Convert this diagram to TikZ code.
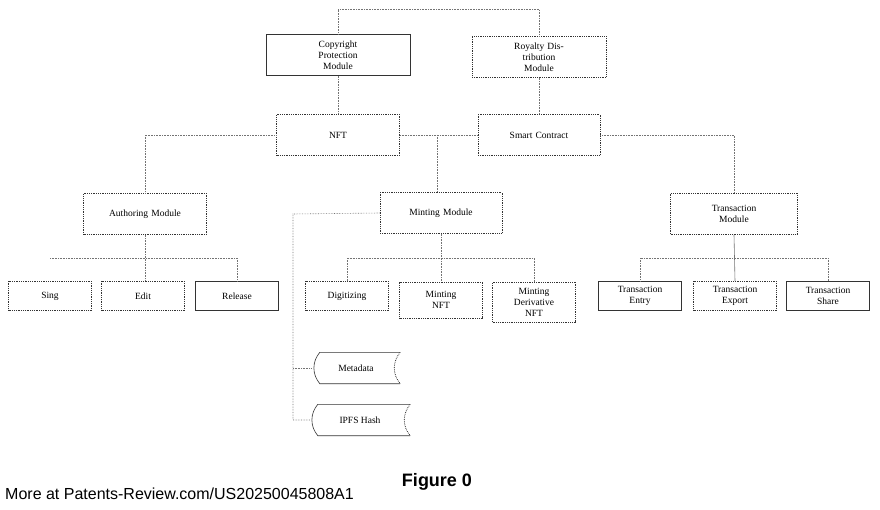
\documentclass[tikz,border=0pt]{standalone}
\usepackage{fontspec}
\setmainfont{Liberation Serif}
\newfontfamily\footfont{Liberation Sans}
\usetikzlibrary{positioning}

\begin{document}
\begin{tikzpicture}[x=1pt, y=-1pt, font=\fontsize{9.5}{11}\selectfont]
    \tikzstyle{block} = [rectangle, draw=black!80, densely dotted, thick, text width=2.6cm, align=center, minimum height=41pt, inner sep=1pt]
    \tikzstyle{solidblock} = [block, solid, semithick]
    \tikzstyle{leaf} = [rectangle, draw=black!80, densely dotted, thick, minimum width=83pt, minimum height=29pt, align=center, inner sep=1pt]
    \tikzstyle{line} = [draw, black!55, densely dotted, semithick]
    \tikzstyle{store} = [minimum width=88pt, minimum height=31pt, inner sep=0pt]

    \useasboundingbox (0,0) rectangle (880,510);

    % upper modules
    \node [solidblock, minimum width=144pt] (copyright) at (338,55) {Copyright Protection\\Module};
    \node [block, minimum width=134pt] (royalty) at (539,57) {Royalty Distribution\\Module};
    \node [block, minimum width=123pt] (nft) at (338,135) {NFT};
    \node [block, minimum width=122pt] (contract) at (539,135) {Smart Contract};
    \node [block, minimum width=123pt] (authoring) at (145,214) {Authoring Module};
    \node [block, minimum width=122pt] (minting) at (441,213) {Minting Module};
    \node [block, minimum width=127pt] (transaction) at (734,214) {Transaction Module};

    % leaves
    \node [leaf] (sing) at (50,296) {Sing};
    \node [leaf] (edit) at (143,296) {Edit};
    \node [leaf, solid, semithick] (release) at (237,296) {Release};
    \node [leaf] (digitizing) at (347,296) {Digitizing};
    \node [leaf, minimum height=36pt] (mintnft) at (441,300) {Minting\\NFT};
    \node [leaf, minimum height=40pt] (mintderiv) at (534,302) {Minting\\Derivative\\NFT};
    \node [leaf, solid, semithick] (entry) at (640,296) {Transaction\\Entry};
    \node [leaf] (export) at (735,296) {Transaction\\Export};
    \node [leaf, solid, semithick] (share) at (828,296) {Transaction\\Share};

    % stored data
    \node [store] (metadata) at (356,368) {Metadata};
    \node [store, minimum width=100pt] (ipfs) at (360,420) {IPFS Hash};
    \foreach \s in {metadata, ipfs} {
        \draw [black!80, semithick] (\s.north east) -- ([xshift=8pt]\s.north west)
            to[bend right=40] ([xshift=8pt]\s.south west) -- (\s.south east);
        \draw [black!80, densely dotted, thick] (\s.north east) to[bend right=40] (\s.south east);
    }

    % connectors
    \coordinate (top) at (338,9);
    \path [line] (copyright.north) -- (top) -| (royalty.north);
    \path [line] (copyright) -- (nft);
    \path [line] (royalty) -- (contract);
    \path [line] (nft.west) -| (authoring.north);
    \path [line] (nft.east) -- (contract.west);
    \coordinate (mid) at (437,135);
    \path [line] (mid) -- (mid |- minting.north);
    \path [line] (contract.east) -| (transaction.north);

    \coordinate (abar) at (145,258);
    \path [line] (authoring.south) -- (abar) -- (edit.north -| abar);
    \path [line] (sing.north |- abar) -- (abar) -| (release.north);
    \coordinate (mbar) at (441,258);
    \path [line] (minting.south) -- (mintnft.north -| mbar);
    \path [line] (digitizing.north) |- (mbar) -| (mintderiv.north);
    \coordinate (tbar) at (735,258);
    \path [line, solid] (transaction.south) -- (export.north);
    \path [line] (entry.north) |- (tbar) -| (share.north);

    \coordinate (spine) at (293,214);
    \path [line] (minting.west) -- (spine) |- (ipfs.west);
    \path [line] (spine |- metadata.west) -- (metadata.west);

    % caption
    \node [font=\footfont\bfseries\fontsize{18}{20}\selectfont] (figure) at (437,482) {Figure 0};
    \node [font=\footfont\fontsize{16}{18}\selectfont, anchor=west, inner sep=0pt] (more) at (5,494) {More at Patents-Review.com/US20250045808A1};
\end{tikzpicture}
\end{document}
